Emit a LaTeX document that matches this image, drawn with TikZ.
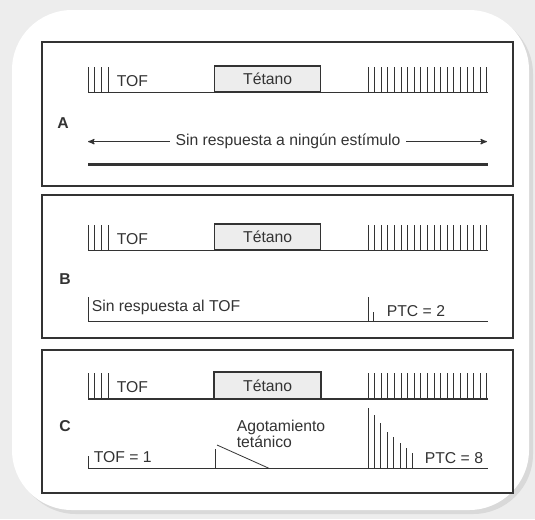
\documentclass[tikz,border=0pt]{standalone}
\usepackage{fontspec}
\setmainfont{Liberation Sans}
\usetikzlibrary{arrows,positioning}
\tikzstyle{panel}=[draw=black!80,line width=1.1pt]
\tikzstyle{tetbox}=[rectangle,draw=black!80,line width=1pt,fill=black!7,
  inner sep=0pt,minimum width=79.5pt,minimum height=19.5pt]
\tikzstyle{lbl}=[inner sep=1pt,text=black!80,font=\fontsize{11.8}{12.5}\selectfont]
\tikzstyle{tick}=[line width=0.6pt]
\newcommand{\stimrow}[2]{%
  \coordinate (#1s) at (88,#2);
  \coordinate (#1e) at (488,#2);
  \node[tetbox,anchor=south west] (#1tet) at (214,#2) {};
  \node[lbl] (#1tettxt) at (#1tet.center) {Tétano};
  \draw (#1s) -- (#1tet.south west);
  \draw (#1tet.south east) -- (#1e);
  \foreach \x in {88,94,101,108.5} \draw[tick] (\x,#2) -- ++(0,-26);
  \node[lbl,anchor=west] (#1tof) at (115,#2-12) {TOF};
  \foreach \i in {0,...,18} \draw[tick] (368+\i*6.6,#2) -- ++(0,-26);
}

\begin{document}
\begin{tikzpicture}[x=0.75pt,y=-0.75pt,>=stealth',line width=0.8pt,draw=black!80]
  \fill[black!7] (0,0) rectangle (535,519);
  \fill[black!15,rounded corners=45pt] (16,14) rectangle (533,514);
  \fill[white,rounded corners=45pt] (12,10) rectangle (529,510);
  \useasboundingbox (0,0) rectangle (535,519);

  \draw[panel] (42,42) rectangle (513,186);
  \draw[panel] (42,195) rectangle (513,338);
  \draw[panel] (42,350) rectangle (513,493);

  \stimrow{a}{92.8}
  \node[lbl,font=\fontsize{11.8}{12.5}\selectfont\bfseries] (labA) at (63,123.5) {A};
  \coordinate (aL) at (88,141.6);
  \coordinate (aR) at (487,141.6);
  \node[lbl,inner sep=4pt] (msgA) at (288,141.6) {Sin respuesta a ningún estímulo};
  \draw[->] (msgA) -- (aL);
  \draw[->] (msgA) -- (aR);
  \coordinate (aT1) at (88,164.5);
  \coordinate (aT2) at (488,164.5);
  \draw[line width=1.8pt] (aT1) -- (aT2);

  \stimrow{b}{250.7}
  \node[lbl,font=\fontsize{11.8}{12.5}\selectfont\bfseries] (labB) at (65,279) {B};
  \coordinate (bL) at (88,321.7);
  \coordinate (bR) at (488,321.7);
  \draw (bL) -- (bR);
  \draw[tick] (bL) -- ++(0,-25);
  \node[lbl,anchor=west] (bmsg) at (90,307) {Sin respuesta al TOF};
  \draw[tick] (368,321.7) -- ++(0,-25);
  \draw[tick] (373.3,321.7) -- ++(0,-10);
  \node[lbl,anchor=west] (bptc) at (385,311) {PTC = 2};

  \stimrow{c}{399}
  \draw[line width=1.5pt] (ctet.south west) rectangle (ctet.north east);
  \node[lbl,font=\fontsize{11.8}{12.5}\selectfont\bfseries] (labC) at (65,425.7) {C};
  \coordinate (cL) at (88,468.3);
  \coordinate (cR) at (488,468.3);
  \draw (cL) -- (cR);
  \draw[tick] (cL) -- ++(0,-12);
  \node[lbl,anchor=west] (ctof) at (92,457) {TOF = 1};
  \coordinate (fBot) at (215,468.3);
  \coordinate (fTop) at (215,449);
  \coordinate (dTop) at (217,445);
  \coordinate (dBot) at (269,468.3);
  \draw[tick] (fBot) -- (fTop);
  \draw[tick] (dTop) -- (dBot);
  \node[lbl,anchor=west,align=left,font=\fontsize{11.8}{11.5}\selectfont] (cago) at (235,434) {Agotamiento\\tetánico};
  \foreach \x/\h in {368.3/60,374/53.3,380.7/45,387.3/36.7,393.3/31.7,400/25,406.7/20.7,412.3/15.7}
    \draw[tick] (\x,468.3) -- ++(0,-\h);
  \node[lbl,anchor=west] (cptc) at (423,458) {PTC = 8};
\end{tikzpicture}
\end{document}
